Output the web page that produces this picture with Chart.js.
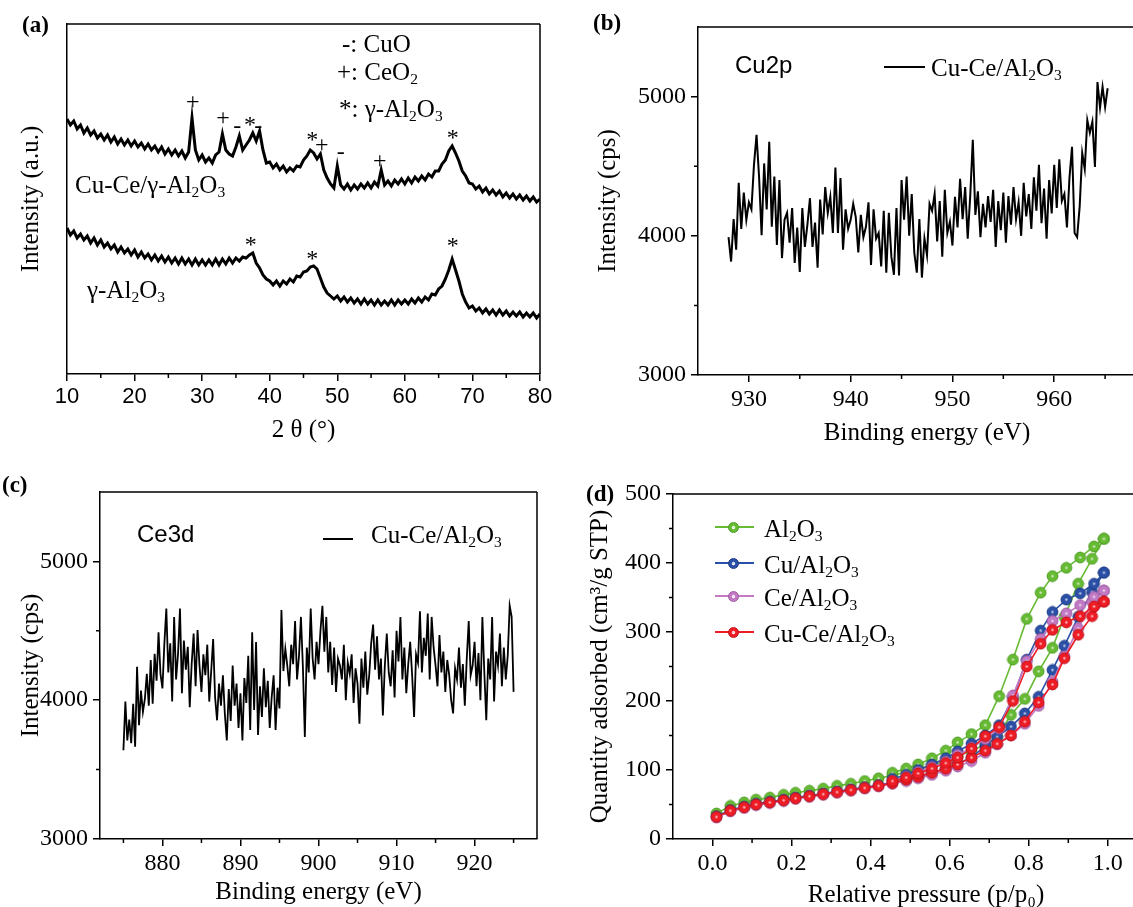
<!DOCTYPE html>
<html>
<head>
<meta charset="utf-8">
<script src="https://cdn.jsdelivr.net/npm/chart.js@4.4.0/dist/chart.umd.min.js"></script>
<style>
body{margin:0;width:1133px;height:907px;overflow:hidden;background:#fff;position:relative;font-family:"Liberation Serif","Times New Roman",serif;}
canvas{position:absolute;}
.t{position:absolute;white-space:nowrap;line-height:1;color:#000;font-size:25px;}
.t sub{font-size:0.62em;vertical-align:baseline;position:relative;top:0.28em;}
.sans{font-family:"Liberation Sans",Arial,sans-serif;font-size:24px;}
.lab{font-weight:bold;font-size:23px;}
.ln{position:absolute;height:0;border-top:2px solid #000;}
.dot{position:absolute;width:11px;height:11px;border-radius:50%;}
</style>
</head>
<body>
<canvas id="chartA" width="560" height="450" style="left:0;top:0"></canvas>
<canvas id="chartB" width="580" height="450" style="left:590px;top:0"></canvas>
<canvas id="chartC" width="560" height="460" style="left:0;top:455px"></canvas>
<canvas id="chartD" width="609" height="460" style="left:580px;top:455px"></canvas>

<div class="t lab" style="left:22px;top:13px">(a)</div>
<div class="t lab" style="left:593px;top:11px">(b)</div>
<div class="t lab" style="left:2px;top:473px">(c)</div>
<div class="t lab" style="left:586px;top:482px">(d)</div>

<div class="t" style="left:342px;top:31px">-: CuO</div>
<div class="t" style="left:337px;top:59px">+: CeO<sub>2</sub></div>
<div class="t" style="left:339px;top:96px">*: γ-Al<sub>2</sub>O<sub>3</sub></div>
<div class="t" style="left:75px;top:172px">Cu-Ce/γ-Al<sub>2</sub>O<sub>3</sub></div>
<div class="t" style="left:87px;top:277px">γ-Al<sub>2</sub>O<sub>3</sub></div>

<div class="t sans" style="left:735px;top:53px">Cu2p</div>
<div class="ln" style="left:884px;top:66px;width:41px"></div>
<div class="t" style="left:931px;top:55px">Cu-Ce/Al<sub>2</sub>O<sub>3</sub></div>

<div class="t sans" style="left:137px;top:522px">Ce3d</div>
<div class="ln" style="left:323px;top:538px;width:30px"></div>
<div class="t" style="left:371px;top:522px">Cu-Ce/Al<sub>2</sub>O<sub>3</sub></div>

<div id="legendD"></div>

<script>
// ---- (a) XRD, 2theta sampled every 0.5 deg from 10 to 80 ----
const xrdStart = 10;
const xrdStep = 0.5;
const xrdCuCe = [
  255,249,253,245,249,241,246,239,243,236,
  240,234,239,232,237,230,235,229,234,228,
  233,227,231,225,230,224,228,222,227,220,
  225,219,224,218,223,216,222,256,224,214,
  219,212,216,211,219,222,240,224,220,218,
  227,238,224,229,234,241,233,243,224,211,
  212,206,210,204,208,202,206,203,208,207,
  214,218,224,221,215,220,204,196,190,186,
  208,189,185,190,184,189,185,190,186,191,
  186,192,188,204,189,193,188,194,190,195,
  190,196,191,197,193,198,194,200,197,203,
  203,210,214,223,228,221,213,203,198,191,
  190,185,188,182,186,180,184,179,183,177,
  181,176,180,175,179,174,178,173,177,172,
  175
];
const xrdAl = [
  146,139,143,136,140,134,138,131,136,129,
  134,127,131,125,129,122,127,121,125,119,
  124,117,122,116,120,114,119,113,118,112,
  117,111,116,110,116,110,115,109,115,109,
  114,109,114,109,115,109,115,110,116,111,
  116,113,117,116,119,121,111,106,99,95,
  93,89,93,88,93,90,95,92,98,97,
  102,103,107,108,105,96,87,81,78,75,
  78,73,77,72,76,71,75,70,75,70,
  74,69,74,69,73,69,74,69,74,70,
  74,70,75,71,76,72,77,74,80,79,
  85,88,95,104,115,104,93,80,72,66,
  68,63,66,61,65,60,64,59,64,59,
  63,58,62,58,62,57,61,57,61,56,
  60
];
const xrdTicks = [10, 20, 30, 40, 50, 60, 70, 80];
const xrdMinor = [15, 25, 35, 45, 55, 65, 75];
// peak markers: angle, height (same units as traces), symbol
const markAngle = [28.6, 33.1, 35.2, 37.1, 38.3, 46.3, 47.7, 50.5, 56.3, 67.1, 37.2, 46.3, 67.1];
const markLevel = [272, 256, 247, 253, 247, 238, 229, 221, 213, 240, 133, 119, 132];
const markSym = ['+', '+', '-', '*', '-', '*', '+', '-', '+', '*', '*', '*', '*'];

// ---- (b) Cu2p, every 0.25 eV from 928 ----
const cu2pStart = 928;
const cu2pStep = 0.25;
const cu2p = [
  3990,3815,4120,3900, 4380,4050,4310,4115, 4240,4190,4510,4725, 4425,4005,4520,4190,
  4675,4065,4425,3935, 4400,3840,4115,4165, 3950,4200,3805,4060, 3740,4200,3920,4080,
  4270,3920,4095,3770, 4260,4010,4350,4165, 4280,4020,4490,4020, 4415,3900,4190,4050,
  4115,4230,4135,3880, 4150,3990,4065,4240, 3790,4190,3980,4020, 3780,4180,3735,4165,
  3850,3720,4200,3715, 4400,4115,4425,4000, 4300,3880,3735,4120, 3700,3980,3860,4230,
  4180,4300,3960,4250, 3850,4330,4020,4100, 3930,4280,4060,4410, 4120,4350,3980,4290,
  4690,4150,4320,3990, 4230,4060,4285,4100, 4330,3920,4250,4040, 4310,3950,4285,4080,
  4350,4120,4240,4000, 4380,4140,4300,4050, 4420,4180,4510,4090, 4340,3980,4400,4160,
  4510,4200,4550,4250, 4300,4060,4420,4640, 4020,3990,4210,4595, 4480,4830,4740,4820,
  4495,5105,4920,5070, 4925,5060
];
const cu2pTicksX = [930, 940, 950, 960];
const cu2pMinorX = [935, 945, 955, 965];
const xpsTicksY = [3000, 4000, 5000];
const xpsMinorY = [3500, 4500];

// ---- (c) Ce3d, every 0.25 eV from 875 ----
const ce3dStart = 875;
const ce3dStep = 0.25;
const ce3d = [
  3640,3990,3710,3860, 3690,3975,3665,4240, 3820,4070,3915,4010, 4190,3960,4290,3975,
  4335,4140,4490,4190, 4085,4410,4660,4200, 4410,3990,4600,4150, 4335,4660,4050,4430,
  4220,4385,3950,4265, 4480,4100,4505,4250, 4060,4330,4180,4400, 3990,4210,4440,4020,
  3855,4120,3960,4180, 3900,3710,4080,3850, 4250,3960,4120,3800, 4050,3710,4160,3980,
  4320,3785,4490,3930, 4420,3750,4100,3880, 4230,3950,4140,3800, 4020,4180,3785,4090,
  3940,4650,4210,4370, 4250,4100,4400,4260, 4570,4150,4320,4600, 4240,3735,4380,4200,
  4660,4300,4150,4420, 4260,4500,4680,4350, 4600,4200,4420,4110, 4380,4060,4300,4250,
  4150,4400,4000,4270, 4190,4330,3980,4230, 4120,3830,4300,4090, 4350,4040,4180,4410,
  4545,4220,4460,4150, 4300,3890,4250,4480, 4200,4100,4360,4020, 4500,4280,4600,4150,
  4380,4050,4260,4420, 4180,3880,4330,4270, 4640,4200,4450,4320, 4625,4150,4600,4380,
  4250,4100,4470,4200, 4350,4060,4290,4180, 4000,3905,4230,4150, 4380,4090,4260,3960,
  4300,4570,4180,4250, 4420,4100,4340,4000, 4600,4200,3855,4300, 4150,4600,3990,4350,
  4250,4480,4100,4380, 4150,4320,4680,4600, 4060
];
const ce3dTicksX = [880, 890, 900, 910, 920];
const ce3dMinorX = [875, 885, 895, 905, 915, 925];

// ---- (d) N2 isotherms ----
const pAds = [0.01,0.045,0.08,0.11,0.145,0.18,0.21,0.245,0.28,0.315,0.35,0.385,0.42,0.455,0.49,
  0.52,0.555,0.59,0.62,0.655,0.69,0.72,0.755,0.79,0.825,0.86,0.89,0.925,0.96,0.99];
const pDes = [0.99,0.965,0.93,0.895,0.86,0.83,0.795,0.76,0.725,0.69,0.655,0.62,0.59,0.555,0.52,0.49,0.455];
const alAds = [37,48,53,57,60,64,67,70,73,77,80,84,88,92,97,101,107,113,120,128,137,148,180,203,243,277,322,370,406,435];
const alDes = [435,424,408,393,381,357,319,260,207,165,152,140,128,117,108,102,96];
const cuAds = [33,42,47,51,54,57,60,63,66,69,72,75,78,82,86,90,96,102,109,118,135,148,163,182,206,245,280,322,358,386];
const cuDes = [386,370,356,347,329,302,260,205,165,150,138,127,117,108,100,93,87];
const ceAds = [31,40,45,49,52,55,58,61,64,67,70,73,76,80,84,88,93,99,105,113,125,137,150,167,193,228,265,305,344,360];
const ceDes = [360,351,339,327,316,290,258,208,160,145,132,122,112,104,97,90,84];
const cuceAds = [32,41,46,50,53,56,59,62,65,68,71,74,77,81,86,90,96,102,108,118,128,138,150,170,198,224,262,296,323,344];
const cuceDes = [344,337,323,314,303,283,250,200,162,149,131,118,110,102,95,89,84];
const isoNames = ['Al<sub>2</sub>O<sub>3</sub>', 'Cu/Al<sub>2</sub>O<sub>3</sub>', 'Ce/Al<sub>2</sub>O<sub>3</sub>', 'Cu-Ce/Al<sub>2</sub>O<sub>3</sub>'];
const isoColors = ['#66bb33', '#2a4fa6', '#c27ac5', '#ee1c25'];
const isoEdges = ['#4c9a22', '#1c3a82', '#9d58a0', '#bf1118'];
const betTicksX = [0, 0.2, 0.4, 0.6, 0.8, 1.0];
const betMinorX = [0.1, 0.3, 0.5, 0.7, 0.9];
const betTicksY = [0, 100, 200, 300, 400, 500];
const betMinorY = [50, 150, 250, 350, 450];

const serif = '"Liberation Serif", "Times New Roman", serif';
const sans = '"Liberation Sans", Arial, sans-serif';
Chart.defaults.color = '#000';

function framePlugin(o) {
    return {
        id: 'frame',
        afterDraw(chart) {
            const ctx = chart.ctx;
            const a = chart.chartArea;
            const x = chart.scales.x;
            const y = chart.scales.y;
            ctx.save();
            ctx.strokeStyle = '#000';
            ctx.lineWidth = 1.5;
            ctx.beginPath();
            ctx.moveTo(a.left, a.top);
            ctx.lineTo(a.right, a.top);
            if (o.right) {
                ctx.moveTo(a.right, a.top);
                ctx.lineTo(a.right, a.bottom);
            }
            (o.minorX || []).forEach(v => {
                const px = x.getPixelForValue(v);
                ctx.moveTo(px, a.bottom);
                ctx.lineTo(px, a.bottom + 4);
            });
            (o.minorY || []).forEach(v => {
                const py = y.getPixelForValue(v);
                ctx.moveTo(a.left, py);
                ctx.lineTo(a.left - 4, py);
            });
            ctx.stroke();
            if (o.marks) {
                ctx.fillStyle = '#000';
                ctx.font = '24px ' + serif;
                ctx.textAlign = 'center';
                ctx.textBaseline = 'alphabetic';
                o.marks.x.forEach((v, i) => {
                    const s = o.marks.s[i];
                    const m = ctx.measureText(s);
                    const cy = y.getPixelForValue(o.marks.y[i]);
                    ctx.fillText(s, x.getPixelForValue(v), cy + (m.actualBoundingBoxAscent - m.actualBoundingBoxDescent) / 2);
                });
            }
            ctx.restore();
        }
    };
}

function series(start, step, vals) {
    return vals.map((v, i) => ({x: start + step * i, y: v}));
}

function axisX(min, max, ticks, labels, h, font, title, titlePad) {
    return {
        type: 'linear', min: min, max: max,
        afterBuildTicks: s => { s.ticks = ticks.map(v => ({value: v})); },
        afterFit: s => { s.height = h; },
        ticks: {font: font, color: '#000', padding: 3, maxRotation: 0, autoSkip: false,
            callback: (v, i) => labels[i]},
        grid: {drawOnChartArea: false, tickLength: 7, color: '#000', lineWidth: 1.5},
        border: {color: '#000', width: 1.5},
        title: {display: true, text: title, color: '#000', font: {family: serif, size: 25}, padding: {top: 0, bottom: titlePad}}
    };
}

function axisY(min, max, ticks, w, title, titlePad) {
    return {
        min: min, max: max,
        afterBuildTicks: s => { s.ticks = ticks.map(v => ({value: v})); },
        afterFit: s => { s.width = w; },
        ticks: {display: ticks.length > 0, font: {family: serif, size: 24}, color: '#000', padding: 5,
            callback: v => String(v)},
        grid: {drawOnChartArea: false, drawTicks: ticks.length > 0, tickLength: 7, color: '#000', lineWidth: 1.5},
        border: {color: '#000', width: 1.5},
        title: {display: true, text: title, color: '#000', font: {family: serif, size: 25}, padding: {top: titlePad, bottom: 0}}
    };
}

const common = {
    responsive: false, animation: false, devicePixelRatio: 1, events: []
};

// (a)
new Chart(document.getElementById('chartA'), {
    type: 'line',
    data: {datasets: [
        {data: series(xrdStart, xrdStep, xrdCuCe), borderColor: '#000', borderWidth: 3, pointRadius: 0, tension: 0},
        {data: series(xrdStart, xrdStep, xrdAl), borderColor: '#000', borderWidth: 3, pointRadius: 0, tension: 0}
    ]},
    options: Object.assign({}, common, {
        layout: {padding: {top: 24, right: 20, left: 0, bottom: 0}},
        plugins: {legend: {display: false}, tooltip: {enabled: false}},
        scales: {
            x: axisX(10, 80, xrdTicks, xrdTicks.map(String), 76, {family: sans, size: 22}, '2 θ (°)', 5),
            y: axisY(0, 350, [], 67, 'Intensity (a.u.)', 16)
        }
    }),
    plugins: [framePlugin({right: true, minorX: xrdMinor, marks: {x: markAngle, y: markLevel, s: markSym}})]
});

// (b)
new Chart(document.getElementById('chartB'), {
    type: 'line',
    data: {datasets: [
        {data: series(cu2pStart, cu2pStep, cu2p), borderColor: '#000', borderWidth: 2, pointRadius: 0, tension: 0}
    ]},
    options: Object.assign({}, common, {
        layout: {padding: {top: 27, right: 14, left: 0, bottom: 0}},
        plugins: {legend: {display: false}, tooltip: {enabled: false}},
        scales: {
            x: axisX(925, 970, cu2pTicksX, cu2pTicksX.map(String), 75, {family: serif, size: 24}, 'Binding energy (eV)', 2),
            y: axisY(3000, 5500, xpsTicksY, 108, 'Intensity (cps)', 3)
        }
    }),
    plugins: [framePlugin({right: false, minorX: cu2pMinorX, minorY: xpsMinorY})]
});

// (c)
new Chart(document.getElementById('chartC'), {
    type: 'line',
    data: {datasets: [
        {data: series(ce3dStart, ce3dStep, ce3d), borderColor: '#000', borderWidth: 1.8, pointRadius: 0, tension: 0}
    ]},
    options: Object.assign({}, common, {
        layout: {padding: {top: 37, right: 23, left: 0, bottom: 0}},
        plugins: {legend: {display: false}, tooltip: {enabled: false}},
        scales: {
            x: axisX(872, 928, ce3dTicksX, ce3dTicksX.map(String), 76, {family: serif, size: 24}, 'Binding energy (eV)', 8),
            y: axisY(3000, 5500, xpsTicksY, 100, 'Intensity (cps)', 16)
        }
    }),
    plugins: [framePlugin({right: true, minorX: ce3dMinorX, minorY: xpsMinorY})]
});

// (d)
function ball(color, edge) {
    const c = document.createElement('canvas');
    c.width = 13; c.height = 13;
    const g = c.getContext('2d');
    g.beginPath();
    g.arc(6.5, 6.5, 5.4, 0, Math.PI * 2);
    g.fillStyle = color;
    g.fill();
    g.lineWidth = 1;
    g.strokeStyle = edge;
    g.stroke();
    g.beginPath();
    g.arc(6.5, 6.5, 1.2, 0, Math.PI * 2);
    g.fillStyle = 'rgba(255,255,255,0.7)';
    g.fill();
    return c;
}
function loop(ads, des) {
    return pAds.map((p, i) => ({x: p, y: ads[i]})).concat(pDes.map((p, i) => ({x: p, y: des[i]})));
}
const isoData = [loop(alAds, alDes), loop(cuAds, cuDes), loop(ceAds, ceDes), loop(cuceAds, cuceDes)];
const dsD = [];
for (let k = 3; k >= 0; k--) {
    dsD.push({
        data: isoData[k], borderColor: isoColors[k], borderWidth: 1.6, tension: 0,
        pointStyle: ball(isoColors[k], isoEdges[k]), pointRadius: 5
    });
}
new Chart(document.getElementById('chartD'), {
    type: 'line',
    data: {datasets: dsD},
    options: Object.assign({}, common, {
        layout: {padding: {top: 39, right: 10, left: 0, bottom: 0}},
        plugins: {legend: {display: false}, tooltip: {enabled: false}},
        scales: {
            x: axisX(-0.1, 1.18, betTicksX, betTicksX.map(v => v.toFixed(1)), 76, {family: serif, size: 24}, 'Relative pressure (p/p₀)', 5),
            y: axisY(0, 500, betTicksY, 93, 'Quantity adsorbed (cm³/g STP)', 5)
        }
    }),
    plugins: [framePlugin({right: false, minorX: betMinorX, minorY: betMinorY})]
});

// legend for (d)
const legendRows = [527, 563, 596, 632];
const legendBox = document.getElementById('legendD');
isoNames.forEach((name, k) => {
    const y = legendRows[k];
    legendBox.insertAdjacentHTML('beforeend',
        '<div class="ln" style="left:715px;top:' + (y - 1) + 'px;width:39px;border-top:2px solid ' + isoColors[k] + '"></div>' +
        '<div class="dot" style="left:728px;top:' + (y - 5.5) + 'px;background:radial-gradient(circle at 50% 50%, rgba(255,255,255,0.8) 0 1.2px, ' + isoColors[k] + ' 2.2px);border:1px solid ' + isoEdges[k] + ';box-sizing:border-box"></div>' +
        '<div class="t" style="left:764px;top:' + (y - 11) + 'px">' + name + '</div>');
});
</script>
</body>
</html>
